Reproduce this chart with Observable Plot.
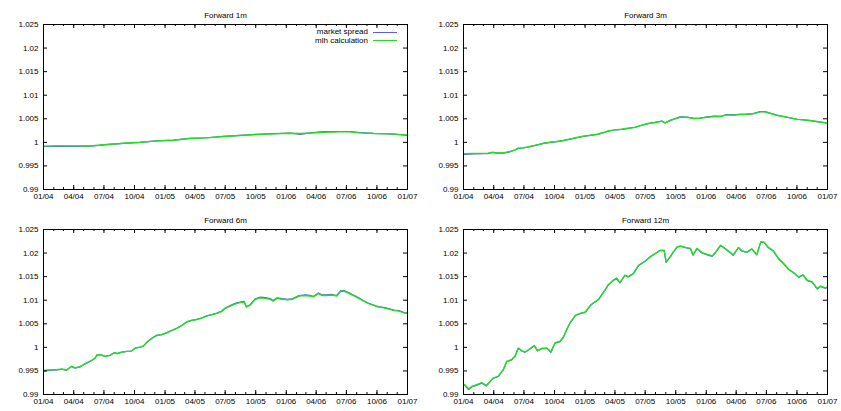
<!DOCTYPE html>
<html>
<head>
<meta charset="utf-8">
<script src="https://cdn.jsdelivr.net/npm/d3@7"></script>
<script src="https://cdn.jsdelivr.net/npm/@observablehq/plot@0.6"></script>
<style>
  body { margin: 0; background: #fff; font-family: "Liberation Sans", Arial, sans-serif; }
  #wrap { position: relative; width: 841px; height: 411px; background: #fff; }
  .panel { position: absolute; }
  .lg-text { position: absolute; font-size: 8px; line-height: 10px; white-space: nowrap; color: #000; text-align: right; }
  .lg-line { position: absolute; height: 0; }
</style>
</head>
<body>
<div id="wrap"></div>
<script>
// ---------- axis ticks ----------
const xTickDates = ["2004-01-01","2004-04-01","2004-07-01","2004-10-01","2005-01-01","2005-04-01","2005-07-01","2005-10-01","2006-01-01","2006-04-01","2006-07-01","2006-10-01","2007-01-01"];
const xTickLabels = ["01/04","04/04","07/04","10/04","01/05","04/05","07/05","10/05","01/06","04/06","07/06","10/06","01/07"];
const yTicks = [0.99, 0.995, 1, 1.005, 1.01, 1.015, 1.02, 1.025];
const yTickLabels = ["0.99","0.995","1","1.005","1.01","1.015","1.02","1.025"];

const seriesNames = ["market spread", "mlh calculation"];
const panelTitles = ["Forward 1m", "Forward 3m", "Forward 6m", "Forward 12m"];

// ---------- Forward 1m ----------
const f1mDates = ["2004-01-02","2004-02-10","2004-03-30","2004-05-20","2004-07-09","2004-08-29","2004-10-18","2004-12-07","2005-01-27","2005-03-16","2005-05-06","2005-06-26","2005-08-15","2005-10-04","2005-11-24","2006-01-13","2006-02-12","2006-03-03","2006-04-22","2006-06-12","2006-07-11","2006-08-11","2006-09-21","2006-11-10","2006-12-31"];
const f1mMarket = [0.99912,0.99918,0.99915,0.99918,0.99950,0.99978,1.00000,1.00030,1.00048,1.00084,1.00098,1.00128,1.00150,1.00172,1.00184,1.00198,1.00170,1.00190,1.00226,1.00230,1.00230,1.00208,1.00190,1.00178,1.00150];
const f1mMlh    = [0.99920,0.99926,0.99926,0.99924,0.99954,0.99982,1.00003,1.00032,1.00046,1.00081,1.00095,1.00124,1.00145,1.00166,1.00180,1.00194,1.00187,1.00194,1.00215,1.00222,1.00222,1.00201,1.00187,1.00180,1.00159];

// ---------- Forward 3m ----------
const f3mDates = ["2004-01-02","2004-01-31","2004-02-29","2004-03-15","2004-03-28","2004-04-10","2004-04-30","2004-05-20","2004-06-04","2004-06-14","2004-06-29","2004-07-19","2004-08-09","2004-08-29","2004-09-18","2004-10-08","2004-10-28","2004-11-18","2004-12-07","2004-12-27","2005-01-17","2005-02-07","2005-02-26","2005-03-12","2005-04-01","2005-04-21","2005-05-11","2005-06-01","2005-06-21","2005-07-10","2005-07-30","2005-08-20","2005-08-30","2005-09-14","2005-09-29","2005-10-14","2005-11-04","2005-11-24","2005-12-14","2006-01-04","2006-01-24","2006-02-13","2006-03-03","2006-03-23","2006-04-13","2006-05-02","2006-05-22","2006-06-12","2006-06-27","2006-07-11","2006-08-01","2006-08-21","2006-09-11","2006-10-01","2006-10-21","2006-11-10","2006-11-30","2006-12-31"];
const f3mMarket = [0.99745,0.99755,0.99758,0.99760,0.99785,0.99770,0.99770,0.99800,0.99838,0.99872,0.99880,0.99908,0.99943,0.99978,1.00000,1.00014,1.00036,1.00070,1.00098,1.00128,1.00150,1.00170,1.00205,1.00240,1.00262,1.00276,1.00298,1.00320,1.00362,1.00398,1.00422,1.00452,1.00412,1.00466,1.00504,1.00540,1.00538,1.00508,1.00516,1.00540,1.00556,1.00552,1.00590,1.00582,1.00596,1.00600,1.00610,1.00655,1.00652,1.00622,1.00578,1.00548,1.00518,1.00490,1.00475,1.00460,1.00440,1.00405];
const f3mMlh    = [0.99762,0.99764,0.99766,0.99768,0.99791,0.99777,0.99777,0.99806,0.99841,0.99876,0.99883,0.99912,0.99947,0.99982,1.00003,1.00018,1.00039,1.00074,1.00102,1.00131,1.00152,1.00173,1.00208,1.00244,1.00265,1.00279,1.00300,1.00321,1.00364,1.00399,1.00420,1.00449,1.00413,1.00463,1.00498,1.00533,1.00533,1.00505,1.00512,1.00533,1.00548,1.00548,1.00583,1.00576,1.00590,1.00597,1.00604,1.00647,1.00647,1.00618,1.00576,1.00548,1.00519,1.00491,1.00477,1.00463,1.00442,1.00413];

// ---------- Forward 6m ----------
const f6mDates = ["2004-01-03","2004-01-21","2004-02-10","2004-02-25","2004-03-10","2004-03-25","2004-04-05","2004-04-20","2004-05-05","2004-05-25","2004-06-04","2004-06-11","2004-06-21","2004-07-04","2004-07-19","2004-08-01","2004-08-11","2004-08-24","2004-09-08","2004-09-20","2004-10-03","2004-10-18","2004-10-28","2004-11-08","2004-11-23","2004-12-07","2004-12-22","2005-01-07","2005-01-22","2005-02-07","2005-02-21","2005-03-07","2005-03-22","2005-04-06","2005-04-21","2005-05-06","2005-05-21","2005-06-06","2005-06-21","2005-06-30","2005-07-16","2005-07-31","2005-08-15","2005-08-27","2005-09-03","2005-09-15","2005-09-30","2005-10-15","2005-10-30","2005-11-14","2005-11-22","2005-12-04","2005-12-19","2006-01-04","2006-01-19","2006-02-08","2006-02-28","2006-03-13","2006-03-23","2006-04-08","2006-04-18","2006-05-03","2006-05-18","2006-06-02","2006-06-14","2006-06-24","2006-07-07","2006-07-22","2006-08-07","2006-08-22","2006-09-06","2006-09-21","2006-10-06","2006-10-21","2006-11-06","2006-11-21","2006-12-06","2006-12-26","2006-12-31"];
const f6mMarket = [0.99495,0.99515,0.99520,0.99535,0.99512,0.99595,0.99560,0.99585,0.99650,0.99722,0.99770,0.99845,0.99842,0.99810,0.99830,0.99886,0.99868,0.99900,0.99915,0.99915,0.99984,1.00006,1.00030,1.00112,1.00197,1.00254,1.00272,1.00312,1.00362,1.00412,1.00468,1.00540,1.00572,1.00592,1.00622,1.00668,1.00694,1.00726,1.00772,1.00830,1.00888,1.00935,1.00962,1.00975,1.00862,1.00910,1.01032,1.01065,1.01055,1.01035,1.00992,1.01052,1.01032,1.01020,1.01030,1.01098,1.01112,1.01102,1.01080,1.01155,1.01115,1.01112,1.01122,1.01100,1.01205,1.01205,1.01162,1.01112,1.01050,1.00990,1.00935,1.00898,1.00862,1.00848,1.00820,1.00792,1.00782,1.00730,1.00738];
const f6mMlh    = [0.99510,0.99526,0.99526,0.99540,0.99520,0.99600,0.99565,0.99590,0.99652,0.99723,0.99770,0.99843,0.99843,0.99810,0.99830,0.99886,0.99870,0.99900,0.99915,0.99915,0.99984,1.00006,1.00030,1.00112,1.00197,1.00254,1.00270,1.00310,1.00360,1.00410,1.00466,1.00537,1.00570,1.00590,1.00620,1.00664,1.00690,1.00720,1.00764,1.00820,1.00876,1.00920,1.00948,1.00960,1.00855,1.00900,1.01019,1.01050,1.01040,1.01020,1.00980,1.01040,1.01020,1.01010,1.01020,1.01089,1.01100,1.01090,1.01070,1.01140,1.01100,1.01100,1.01110,1.01090,1.01189,1.01190,1.01150,1.01100,1.01040,1.00980,1.00927,1.00890,1.00855,1.00840,1.00810,1.00780,1.00770,1.00721,1.00730];

// ---------- Forward 12m ----------
const f12mDates = ["2004-01-04","2004-01-16","2004-01-26","2004-02-10","2004-02-25","2004-03-10","2004-03-30","2004-04-15","2004-04-30","2004-05-10","2004-05-25","2004-06-04","2004-06-14","2004-06-24","2004-07-04","2004-07-19","2004-08-01","2004-08-11","2004-08-24","2004-09-08","2004-09-20","2004-10-03","2004-10-18","2004-10-28","2004-11-08","2004-11-18","2004-12-03","2004-12-17","2005-01-02","2005-01-17","2005-01-27","2005-02-11","2005-02-26","2005-03-12","2005-03-27","2005-04-06","2005-04-16","2005-05-01","2005-05-11","2005-05-26","2005-06-11","2005-06-30","2005-07-15","2005-07-31","2005-08-15","2005-08-27","2005-09-02","2005-09-14","2005-09-24","2005-10-05","2005-10-15","2005-10-30","2005-11-14","2005-11-22","2005-12-04","2005-12-19","2006-01-04","2006-01-19","2006-01-29","2006-02-13","2006-02-28","2006-03-13","2006-03-23","2006-04-08","2006-04-18","2006-05-03","2006-05-18","2006-06-02","2006-06-14","2006-06-24","2006-07-07","2006-07-22","2006-08-07","2006-08-22","2006-09-06","2006-09-21","2006-10-06","2006-10-19","2006-11-01","2006-11-16","2006-12-01","2006-12-11","2006-12-26","2006-12-31"];
const f12mMarket = [0.99205,0.99105,0.99160,0.99200,0.99240,0.99182,0.99340,0.99385,0.99525,0.99695,0.99735,0.99805,0.99980,0.99926,0.99895,0.99965,1.00035,0.99925,0.99975,0.99978,0.99895,1.00090,1.00120,1.00215,1.00395,1.00532,1.00675,1.00715,1.00745,1.00885,1.00945,1.01015,1.01170,1.01325,1.01418,1.01465,1.01368,1.01525,1.01495,1.01560,1.01735,1.01820,1.01912,1.01985,1.02055,1.02052,1.01805,1.01915,1.02020,1.02125,1.02145,1.02115,1.02095,1.01955,1.02092,1.02002,1.01962,1.01930,1.02012,1.02160,1.02085,1.02012,1.01952,1.02115,1.02045,1.02012,1.02085,1.01962,1.02232,1.02225,1.02112,1.02042,1.01875,1.01770,1.01650,1.01580,1.01485,1.01532,1.01415,1.01380,1.01238,1.01292,1.01252,1.01272];
const f12mMlh    = [0.99210,0.99120,0.99170,0.99210,0.99250,0.99190,0.99346,0.99390,0.99530,0.99700,0.99740,0.99810,0.99984,0.99931,0.99900,0.99970,1.00040,0.99930,0.99980,0.99984,0.99900,1.00099,1.00130,1.00220,1.00400,1.00537,1.00680,1.00720,1.00750,1.00890,1.00950,1.01020,1.01174,1.01330,1.01423,1.01470,1.01374,1.01530,1.01500,1.01565,1.01741,1.01826,1.01918,1.01990,1.02060,1.02060,1.01812,1.01920,1.02024,1.02130,1.02150,1.02120,1.02100,1.01969,1.02100,1.02010,1.01970,1.01939,1.02020,1.02166,1.02090,1.02020,1.01960,1.02120,1.02050,1.02020,1.02090,1.01970,1.02237,1.02230,1.02120,1.02050,1.01883,1.01777,1.01656,1.01586,1.01493,1.01540,1.01423,1.01390,1.01246,1.01300,1.01260,1.01280];

// ---------- styling ----------
const BLUE = "#5a5aee";
const GREEN = "#1ee01e";
const FONT = "'Liberation Sans', Arial, Helvetica, sans-serif";

const X0 = new Date("2004-01-01"), X1 = new Date("2007-01-01");
const xMajor = xTickDates.map(d => new Date(d));
const xMinor = d3.utcMonth.range(X0, new Date("2007-01-02"));

function makePanel(title, dates, market, mlh, width, height) {
  const mT = 24, mL = 43, mR = width - 407, mB = height - 189;
  const pw = width - mL - mR, ph = height - mT - mB;
  const rowsM = dates.map((d, i) => ({date: new Date(d), value: market[i]}));
  const rowsG = dates.map((d, i) => ({date: new Date(d), value: mlh[i]}));
  return Plot.plot({
    width, height,
    marginTop: mT, marginLeft: mL, marginRight: mR, marginBottom: mB,
    style: {fontFamily: FONT, fontSize: "8px", background: "white", color: "black", overflow: "visible"},
    x: {type: "utc", domain: [X0, X1]},
    y: {domain: [0.99, 1.025]},
    marks: [
      Plot.line(rowsM, {x: "date", y: "value", stroke: BLUE, strokeWidth: 1.2}),
      Plot.line(rowsG, {x: "date", y: "value", stroke: GREEN, strokeWidth: 1.4}),
      Plot.frame({stroke: "black"}),
      Plot.tickX(xMinor, {x: d => d, insetTop: ph - 2, stroke: "black"}),
      Plot.tickX(xMinor, {x: d => d, insetBottom: ph - 2, stroke: "black"}),
      Plot.tickX(xMajor, {x: d => d, insetTop: ph - 4, stroke: "black"}),
      Plot.tickX(xMajor, {x: d => d, insetBottom: ph - 4, stroke: "black"}),
      Plot.tickY(yTicks, {y: d => d, insetRight: pw - 4, stroke: "black"}),
      Plot.tickY(yTicks, {y: d => d, insetLeft: pw - 4, stroke: "black"}),
      Plot.axisX({ticks: xMajor, tickSize: 0, tickPadding: 4, label: null,
        tickFormat: d => xTickLabels[xMajor.findIndex(t => +t === +d)]}),
      Plot.axisY({ticks: yTicks, tickSize: 0, tickPadding: 5, label: null,
        tickFormat: d => yTickLabels[yTicks.findIndex(t => Math.abs(t - d) < 1e-9)]}),
      Plot.text([title], {frameAnchor: "top", dy: -12, fontSize: 8, fill: "black"})
    ]
  });
}

const wrap = document.getElementById("wrap");
const panels = [
  {title: panelTitles[0], dates: f1mDates, market: f1mMarket, mlh: f1mMlh, left: 0, top: 0, w: 420, h: 205},
  {title: panelTitles[1], dates: f3mDates, market: f3mMarket, mlh: f3mMlh, left: 420, top: 0, w: 421, h: 205},
  {title: panelTitles[2], dates: f6mDates, market: f6mMarket, mlh: f6mMlh, left: 0, top: 205, w: 420, h: 206},
  {title: panelTitles[3], dates: f12mDates, market: f12mMarket, mlh: f12mMlh, left: 420, top: 205, w: 421, h: 206}
];
panels.forEach((p, k) => {
  const div = document.createElement("div");
  div.className = "panel";
  div.style.left = p.left + "px";
  div.style.top = p.top + "px";
  div.style.width = p.w + "px";
  div.style.height = p.h + "px";
  div.appendChild(makePanel(p.title, p.dates, p.market, p.mlh, p.w, p.h));
  if (k === 0) {
    [[seriesNames[0], BLUE, 27], [seriesNames[1], GREEN, 35.5]].forEach(([name, color, top]) => {
      const t = document.createElement("div");
      t.className = "lg-text";
      t.textContent = name;
      t.style.right = (420 - 368) + "px";
      t.style.top = top + "px";
      div.appendChild(t);
      const l = document.createElement("div");
      l.className = "lg-line";
      l.style.left = "373px";
      l.style.width = "24px";
      l.style.top = (top + 4.5) + "px";
      l.style.borderTop = "1.3px solid " + color;
      div.appendChild(l);
    });
  }
  wrap.appendChild(div);
});
</script>
</body>
</html>
